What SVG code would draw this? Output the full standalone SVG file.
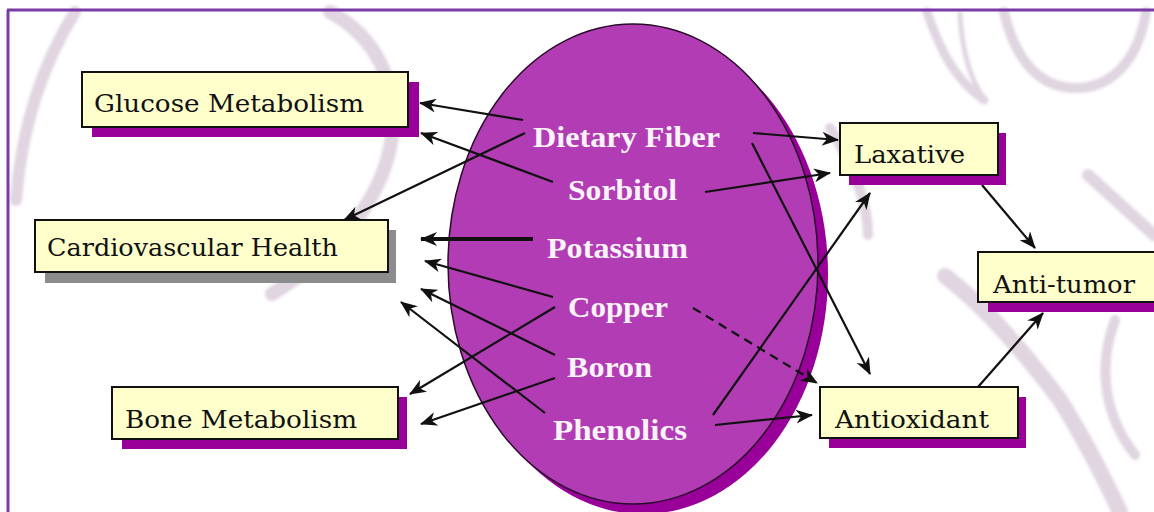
<svg xmlns="http://www.w3.org/2000/svg" width="1154" height="512" viewBox="0 0 1154 512">
<style>
.wm{fill:none;stroke:#e0d5e1;stroke-linecap:round}
.box{fill:#ffffcc;stroke:#111;stroke-width:2}
.shp{fill:#990099}
.shg{fill:#8c8c8c}
.bt{font-family:"DejaVu Serif","Liberation Serif",serif;font-size:24px;fill:#111}
.et{font-family:"Liberation Serif","Times New Roman",serif;font-weight:bold;font-size:30px;fill:#fbf3fb}
.c{stroke:#111;stroke-width:2.2;fill:none;marker-end:url(#ah)}
</style>
<defs>
<marker id="ah" markerUnits="userSpaceOnUse" markerWidth="18" markerHeight="14" refX="16" refY="7" orient="auto">
<path d="M0,0 L17,7 L0,14 L5,7 Z" fill="#111"/>
</marker>
<filter id="soft" x="-10%" y="-10%" width="120%" height="120%">
<feGaussianBlur stdDeviation="1.5"/>
</filter>
</defs>
<rect x="0" y="0" width="1154" height="512" fill="#ffffff"/>
<g id="watermark" filter="url(#soft)">
<path class="wm" d="M75 12 C45 60 22 120 16 200" stroke-width="12"/>
<path class="wm" d="M330 12 C420 60 425 200 272 294" stroke-width="14"/>
<path class="wm" d="M927 12 C940 50 955 80 984 100" stroke-width="9"/>
<path class="wm" d="M960 14 C962 50 970 80 985 100" stroke-width="5"/>
<path class="wm" d="M1004 12 C1015 60 1040 90 1080 88 C1120 85 1140 50 1146 12" stroke-width="10"/>
<path class="wm" d="M1088 175 L1154 235" stroke-width="12"/>
<path class="wm" d="M945 276 C990 310 1030 360 1060 400 C1085 440 1105 480 1120 512" stroke-width="16"/>
<path class="wm" d="M1115 320 C1100 360 1100 410 1135 455" stroke-width="10"/>
<path class="wm" d="M830 128 C850 160 868 200 868 235" stroke-width="10"/>
</g>
<g id="frame">
<line x1="7" y1="10" x2="1154" y2="10" stroke="#7a3aa8" stroke-width="3"/>
<line x1="8" y1="10" x2="8" y2="512" stroke="#7a3aa8" stroke-width="3"/>
</g>
<g id="ellipse">
<ellipse cx="643" cy="274" rx="185" ry="240" fill="#990099"/>
<ellipse cx="633" cy="264" rx="185" ry="240" fill="#b23cb4" stroke="#2a0a2a" stroke-width="1.5"/>
</g>
<g id="node-glucose">
<rect class="shp" x="92" y="82" width="327" height="55"/>
<rect class="box" x="82" y="72" width="326" height="55"/>
<text class="bt" x="94" y="112" textLength="270" lengthAdjust="spacingAndGlyphs">Glucose Metabolism</text>
</g>
<g id="node-cardio">
<rect class="shg" x="45" y="230" width="351" height="53"/>
<rect class="box" x="35" y="220" width="353" height="52"/>
<text class="bt" x="47" y="256" textLength="291" lengthAdjust="spacingAndGlyphs">Cardiovascular Health</text>
</g>
<g id="node-bone">
<rect class="shp" x="122" y="397" width="285" height="52"/>
<rect class="box" x="112" y="387" width="286" height="52"/>
<text class="bt" x="125" y="428" textLength="232" lengthAdjust="spacingAndGlyphs">Bone Metabolism</text>
</g>
<g id="node-laxative">
<rect class="shp" x="849" y="133" width="157" height="52"/>
<rect class="box" x="840" y="123" width="158" height="52"/>
<text class="bt" x="854" y="163" textLength="111" lengthAdjust="spacingAndGlyphs">Laxative</text>
</g>
<g id="node-antitumor">
<rect class="shp" x="988" y="262" width="170" height="50"/>
<rect class="box" x="978" y="252" width="180" height="50"/>
<text class="bt" x="993" y="293" textLength="142" lengthAdjust="spacingAndGlyphs">Anti-tumor</text>
</g>
<g id="node-antioxidant">
<rect class="shp" x="829" y="397" width="197" height="51"/>
<rect class="box" x="820" y="387" width="198" height="51"/>
<text class="bt" x="835" y="428" textLength="154" lengthAdjust="spacingAndGlyphs">Antioxidant</text>
</g>
<g id="node-dietary-fiber"><text class="et" x="533" y="147" textLength="187" lengthAdjust="spacingAndGlyphs">Dietary Fiber</text></g>
<g id="node-sorbitol"><text class="et" x="568" y="200" textLength="109" lengthAdjust="spacingAndGlyphs">Sorbitol</text></g>
<g id="node-potassium"><text class="et" x="547" y="258" textLength="141" lengthAdjust="spacingAndGlyphs">Potassium</text></g>
<g id="node-copper"><text class="et" x="568" y="317" textLength="100" lengthAdjust="spacingAndGlyphs">Copper</text></g>
<g id="node-boron"><text class="et" x="567" y="377" textLength="85" lengthAdjust="spacingAndGlyphs">Boron</text></g>
<g id="node-phenolics"><text class="et" x="553" y="440" textLength="134" lengthAdjust="spacingAndGlyphs">Phenolics</text></g>
<g id="connectors">
<line class="c" x1="523" y1="120" x2="420" y2="103"/>
<line class="c" x1="553" y1="182" x2="421" y2="133"/>
<line class="c" x1="525" y1="133" x2="344" y2="220"/>
<line class="c" x1="533" y1="239" x2="421" y2="239" style="stroke-width:4"/>
<line class="c" x1="553" y1="297" x2="425" y2="261"/>
<line class="c" x1="555" y1="355" x2="421" y2="289"/>
<line class="c" x1="545" y1="413" x2="401" y2="302"/>
<line class="c" x1="555" y1="307" x2="410" y2="394"/>
<line class="c" x1="555" y1="378" x2="421" y2="424"/>
<line class="c" x1="753" y1="133" x2="838" y2="140"/>
<line class="c" x1="705" y1="192" x2="830" y2="173"/>
<line class="c" x1="713" y1="415" x2="870" y2="193"/>
<line class="c" x1="752" y1="143" x2="870" y2="374"/>
<line class="c" x1="693" y1="308" x2="817" y2="383" style="stroke-dasharray:9 6"/>
<line class="c" x1="715" y1="425" x2="812" y2="415"/>
<line class="c" x1="982" y1="185" x2="1035" y2="248"/>
<line class="c" x1="978" y1="387" x2="1043" y2="313"/>
</g>
</svg>
